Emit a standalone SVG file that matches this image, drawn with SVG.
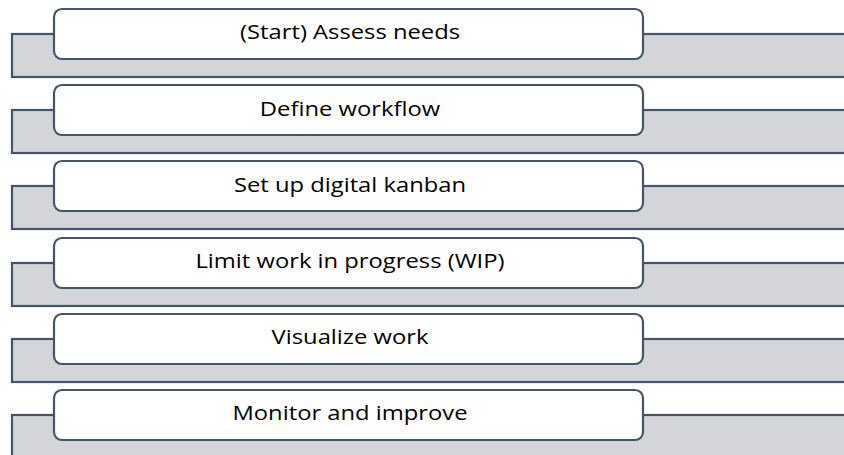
<svg xmlns="http://www.w3.org/2000/svg" width="844" height="455" viewBox="0 0 844 455">
<style>
.bar{fill:#D4D5D9;stroke:#44546A;stroke-width:2.2}
.box{fill:#FFFFFF;stroke:#44546A;stroke-width:2.2}
.lbl{font-family:"Open Sans","Noto Sans",sans-serif;font-size:20.5px;fill:#000;text-anchor:middle}
</style>
<rect width="844" height="455" fill="#FFFFFF"/>
<g id="n1"><rect class="bar" x="12" y="34" width="840" height="43"/><rect class="box" x="54" y="9" width="589" height="50" rx="8"/><text class="lbl" transform="translate(350,39.2) scale(1.16,1)">(Start) Assess needs</text></g>
<g id="n2"><rect class="bar" x="12" y="110" width="840" height="43"/><rect class="box" x="54" y="85" width="589" height="50" rx="8"/><text class="lbl" transform="translate(350,115.5) scale(1.16,1)">Define workflow</text></g>
<g id="n3"><rect class="bar" x="12" y="186" width="840" height="43"/><rect class="box" x="54" y="161" width="589" height="50" rx="8"/><text class="lbl" transform="translate(350,191.5) scale(1.16,1)">Set up digital kanban</text></g>
<g id="n4"><rect class="bar" x="12" y="263" width="840" height="43"/><rect class="box" x="54" y="238" width="589" height="50" rx="8"/><text class="lbl" transform="translate(350,268) scale(1.16,1)">Limit work in progress (WIP)</text></g>
<g id="n5"><rect class="bar" x="12" y="339" width="840" height="43"/><rect class="box" x="54" y="314" width="589" height="50" rx="8"/><text class="lbl" transform="translate(350,344) scale(1.16,1)">Visualize work</text></g>
<g id="n6"><rect class="bar" x="12" y="415" width="840" height="43"/><rect class="box" x="54" y="390" width="589" height="50" rx="8"/><text class="lbl" transform="translate(350,420) scale(1.16,1)">Monitor and improve</text></g>
<g id="connectors"></g>
</svg>
